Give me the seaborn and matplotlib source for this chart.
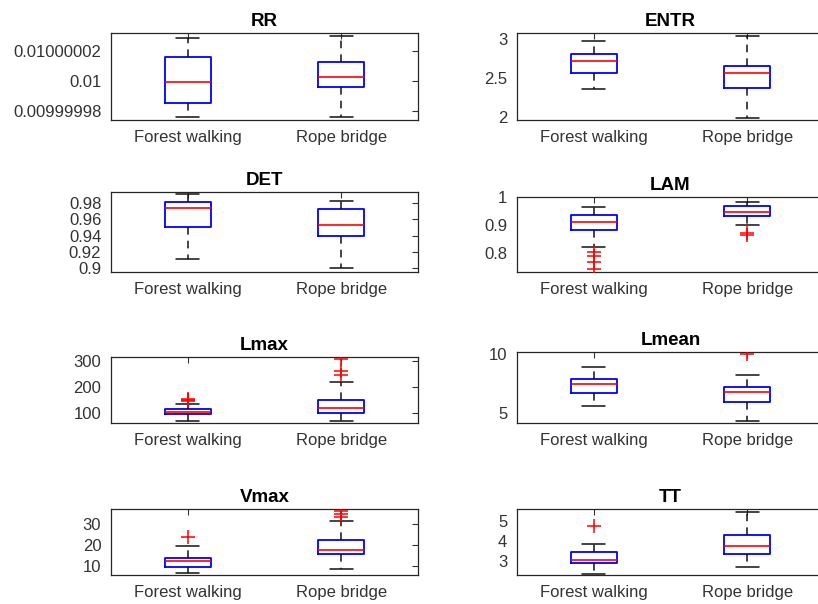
import numpy as np
import pandas as pd
import matplotlib.pyplot as plt
import seaborn as sns

groups = ["Forest walking", "Rope bridge"]

# five-number summaries: [low whisker, Q1, median, Q3, high whisker]
rr_forest = [0.0099999760, 0.0099999853, 0.0099999993, 0.0100000158, 0.0100000283]
rr_rope = [0.0099999760, 0.0099999956, 0.0100000025, 0.0100000122, 0.0100000298]
entr_forest = [2.351, 2.564, 2.715, 2.801, 2.978]
entr_rope = [1.985, 2.364, 2.564, 2.651, 3.039]
det_forest = [0.911, 0.9502, 0.9739, 0.9812, 0.9907]
det_rope = [0.900, 0.9399, 0.953, 0.9726, 0.9828]
lam_forest = [0.820, 0.883, 0.911, 0.935, 0.965]
lam_rope = [0.901, 0.932, 0.945, 0.967, 0.981]
lmax_forest = [72, 96, 105, 115, 134]
lmax_rope = [69, 100, 121, 151, 218]
lmean_forest = [5.56, 6.67, 7.44, 7.86, 8.89]
lmean_rope = [4.33, 5.94, 6.81, 7.17, 8.17]
vmax_forest = [6.5, 9.7, 12.5, 13.8, 19.7]
vmax_rope = [8.7, 15.6, 17.6, 22.4, 31.6]
tt_forest = [2.38, 2.88, 3.05, 3.47, 3.84]
tt_rope = [2.72, 3.35, 3.74, 4.29, 5.43]

# outliers (red +)
lam_forest_out = [0.802, 0.790, 0.767, 0.740]
lam_rope_out = [0.871, 0.862]
lmax_forest_out = [148, 151, 155]
lmax_rope_out = [307, 263, 246]
lmean_rope_out = [9.95]
vmax_forest_out = [23.7]
vmax_rope_out = [36.5, 34.8, 33.3]
tt_forest_out = [4.75]

# y ticks per panel
rr_ticks = [0.00999998, 0.01, 0.01000002]
entr_ticks = [2, 2.5, 3]
det_ticks = [0.9, 0.92, 0.94, 0.96, 0.98]
lam_ticks = [0.8, 0.9, 1]
lmax_ticks = [100, 200, 300]
lmean_ticks = [5, 10]
vmax_ticks = [10, 20, 30]
tt_ticks = [3, 4, 5]

sns.set_theme(style="white")
plt.rcParams["font.family"] = ["Liberation Sans", "DejaVu Sans"]

W, H = 818, 604
fig = plt.figure(figsize=(W / 100, H / 100), dpi=100)

# (title, forest, rope, forest outliers, rope outliers, ylim, ticks, pixel box left/top/bottom)
panels = [
    ("RR", rr_forest, rr_rope, [], [], (0.01 - 2.62e-8, 0.01 + 3.18e-8), rr_ticks, (111, 33, 120)),
    ("ENTR", entr_forest, entr_rope, [], [], (1.957, 3.077), entr_ticks, (517, 33, 120)),
    ("DET", det_forest, det_rope, [], [], (0.8955, 0.9935), det_ticks, (111, 192, 272)),
    ("LAM", lam_forest, lam_rope, lam_forest_out, lam_rope_out, (0.731, 1.0), lam_ticks, (517, 197, 272)),
    ("Lmax", lmax_forest, lmax_rope, lmax_forest_out, lmax_rope_out, (63, 315), lmax_ticks, (111, 357, 423)),
    ("Lmean", lmean_forest, lmean_rope, [], lmean_rope_out, (4.17, 10.13), lmean_ticks, (517, 352, 423)),
    ("Vmax", vmax_forest, vmax_rope, vmax_forest_out, vmax_rope_out, (5.7, 37.3), vmax_ticks, (111, 509, 575)),
    ("TT", tt_forest, tt_rope, tt_forest_out, [], (2.31, 5.58), tt_ticks, (517, 509, 575)),
]

for title, forest, rope, out_f, out_r, ylim, ticks, (left, top, bottom) in panels:
    ax = fig.add_axes([left / W, 1 - bottom / H, 307 / W, (bottom - top) / H])

    box = pd.DataFrame({"group": [groups[0]] * len(forest) + [groups[1]] * len(rope),
                        "value": forest + rope})
    sns.boxplot(data=box, x="group", y="value", order=groups, whis=np.inf, width=0.3,
                fill=False, linewidth=1.2, ax=ax,
                boxprops=dict(color="blue", linewidth=1.3),
                medianprops=dict(color="red", linewidth=1.2),
                whiskerprops=dict(color="#111111", linewidth=1.1, linestyle=(0, (5, 4))),
                capprops=dict(color="#111111", linewidth=1.1))

    if out_f or out_r:
        pts = pd.DataFrame({"group": [groups[0]] * len(out_f) + [groups[1]] * len(out_r),
                            "value": out_f + out_r})
        sns.stripplot(data=pts, x="group", y="value", order=groups, jitter=False,
                      marker="+", color="red", size=10, linewidth=1.1, ax=ax)

    ax.set_xlim(-0.5, 1.5)
    ax.set_ylim(*ylim)
    ax.set_yticks(ticks, labels=[f"{t:.8f}".rstrip("0").rstrip(".") for t in ticks])
    ax.set_xlabel("")
    ax.set_ylabel("")
    ax.set_title(title, fontsize=13.5, fontweight="bold", pad=5, color="black")
    ax.tick_params(direction="in", top=True, right=True, length=4, width=0.8,
                   colors="#333333", labelsize=12, pad=7)
    for s in ax.spines.values():
        s.set_color("#262626")
        s.set_linewidth(0.9)

plt.savefig("out.png", dpi=100)
